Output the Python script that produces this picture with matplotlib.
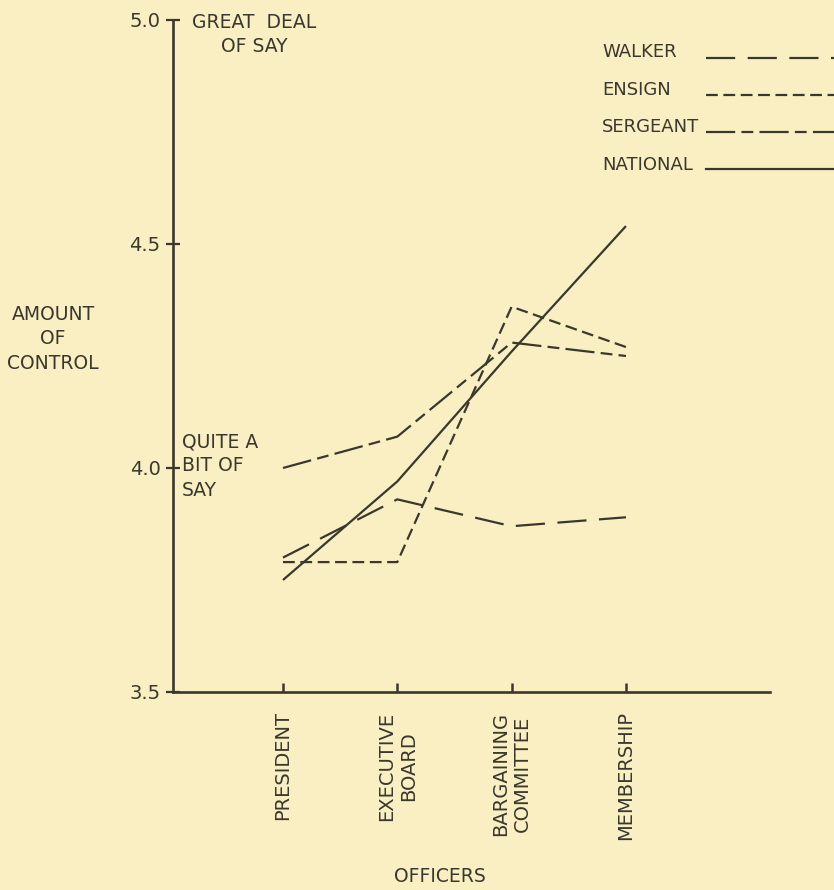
import matplotlib
matplotlib.use("Agg")
import matplotlib.pyplot as plt
from matplotlib.lines import Line2D

# officer levels along the x axis
officers = ["PRESIDENT", "EXECUTIVE\nBOARD", "BARGAINING\nCOMMITTEE", "MEMBERSHIP"]

# amount of control at each level, one list per local
walker = [3.80, 3.93, 3.87, 3.89]
ensign = [3.79, 3.79, 4.36, 4.27]
sergeant = [4.00, 4.07, 4.28, 4.25]
national = [3.75, 3.97, 4.26, 4.54]

y_ticks = [3.5, 4.0, 4.5, 5.0]
y_tick_labels = ["3.5", "4.0", "4.5", "5.0"]

paper = "#faefc2"
ink = "#3a382e"

plt.rcParams["font.family"] = ["DejaVu Sans"]
plt.rcParams["lines.scale_dashes"] = False
plt.rcParams["text.color"] = ink

W, H = 834, 890
fig = plt.figure(figsize=(W / 100, H / 100), dpi=100, facecolor=paper)
ax = fig.add_axes([173 / W, 198 / H, 597 / W, 672 / H])
ax.set_facecolor(paper)

x = list(range(len(officers)))

# line style for each local (dashes in points)
series = [
    ("WALKER", walker, (0, (21, 9))),
    ("ENSIGN", ensign, (0, (8.5, 4))),
    ("SERGEANT", sergeant, (0, (21, 4.5, 8.5, 4.5))),
    ("NATIONAL", national, "-"),
]
for name, vals, ls in series:
    ax.plot(x, vals, color=ink, lw=1.6, linestyle=ls,
            dash_capstyle="butt", solid_capstyle="butt")

ax.set_xlim(-0.962, 4.26)
ax.set_ylim(3.5, 5.0)

for side in ["top", "right"]:
    ax.spines[side].set_visible(False)
for side in ["left", "bottom"]:
    ax.spines[side].set_linewidth(1.9)
    ax.spines[side].set_color(ink)

ax.set_xticks(x, officers, rotation=90, fontsize=14, multialignment="center")
ax.tick_params(axis="x", direction="in", length=6.5, width=1.8, pad=14, colors=ink)
ax.set_yticks(y_ticks, y_tick_labels)
ax.tick_params(axis="y", direction="inout", length=10, width=1.6, pad=4,
               labelsize=14, colors=ink)

# scale anchors written next to the axis
ax.text(-0.25, 5.016, "GREAT  DEAL\nOF SAY", ha="center", va="top",
        multialignment="center", fontsize=13.5, linespacing=1.35, clip_on=False)
ax.text(-0.884, 4.08, "QUITE A\nBIT OF\nSAY", ha="left", va="top",
        fontsize=13.5, linespacing=1.35)

fig.text(53 / W, 1 - 339 / H, "AMOUNT\nOF\nCONTROL", ha="center", va="center",
         multialignment="center", fontsize=13.5, linespacing=1.35)
fig.text(440 / W, 1 - 877 / H, "OFFICERS", ha="center", va="center", fontsize=13.5)

# key in the top right: label on the left, line running off the page
for i, (name, vals, ls) in enumerate(series):
    ty = 52 + 37.7 * i
    ly = 57.5 + 37.2 * i
    fig.text(602 / W, 1 - ty / H, name, ha="left", va="center", fontsize=13)
    fig.add_artist(Line2D([706 / W, 1.02], [1 - ly / H, 1 - ly / H],
                          transform=fig.transFigure, color=ink, lw=1.6,
                          linestyle=ls, dash_capstyle="butt"))

fig.savefig("out.png", dpi=100, facecolor=paper)
